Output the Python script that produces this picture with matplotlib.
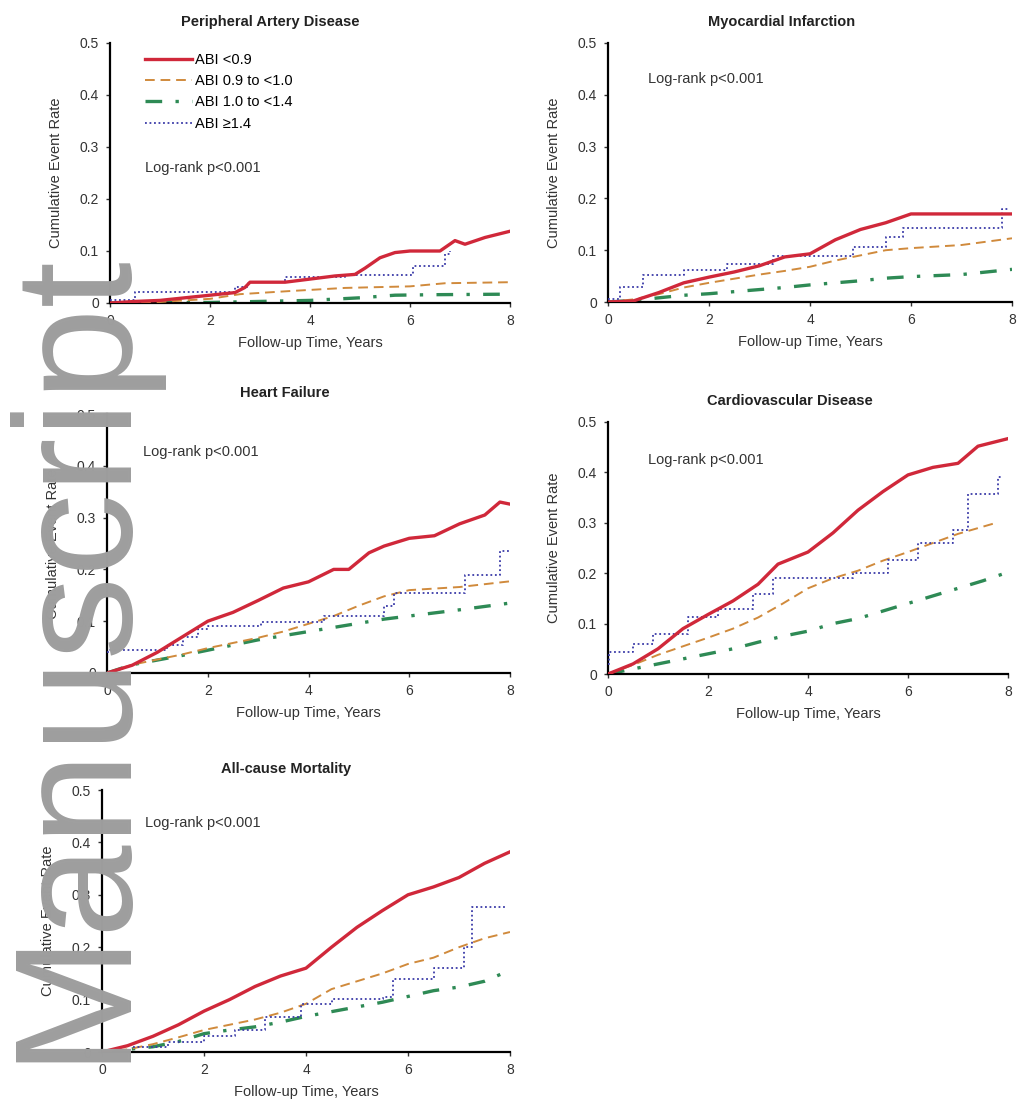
import matplotlib
matplotlib.use('Agg')
import matplotlib.pyplot as plt
from matplotlib.ticker import FuncFormatter

plt.rcParams['font.family'] = ['Liberation Sans', 'DejaVu Sans']
plt.rcParams['font.size'] = 10

W, H = 1021, 1115

group_labels = ['ABI <0.9', 'ABI 0.9 to <1.0', 'ABI 1.0 to <1.4', 'ABI \u22651.4']
titles = ['Peripheral Artery Disease', 'Myocardial Infarction', 'Heart Failure',
          'Cardiovascular Disease', 'All-cause Mortality']
logrank_text = ['Log-rank p<0.001'] * 5
years = [0, 0.5, 1, 1.5, 2, 2.5, 3, 3.5, 4, 4.5, 5, 5.5, 6, 6.5, 7, 7.5, 8]

# Peripheral artery disease
pad_red_t = [0, 0.5, 1, 1.5, 2, 2.5, 2.7, 2.8, 3.5, 4, 4.5, 4.9, 5.1, 5.4, 5.7, 6, 6.6, 6.9, 7.1, 7.5, 8]
pad_red = [0, 0.003, 0.005, 0.01, 0.015, 0.02, 0.03, 0.04, 0.04, 0.046, 0.052, 0.055, 0.067, 0.087, 0.097,
           0.1, 0.1, 0.12, 0.113, 0.126, 0.138]
pad_orange_t = [0, 1, 2, 2.6, 3.6, 4.7, 6, 6.7, 8]
pad_orange = [0, 0.002, 0.008, 0.017, 0.023, 0.029, 0.032, 0.038, 0.04]
pad_green_t = [0, 2, 3, 4, 5, 5.7, 6.5, 8]
pad_green = [0, 0.001, 0.003, 0.005, 0.01, 0.015, 0.016, 0.017]
pad_blue_t = [0, 0.5, 2.5, 2.75, 3.5, 4.7, 6.05, 6.7, 6.8]
pad_blue = [0.005, 0.022, 0.03, 0.04, 0.05, 0.053, 0.072, 0.095, 0.1]

# Myocardial infarction
mi_red_t = [0, 0.5, 1, 1.5, 2, 2.5, 3, 3.5, 4, 4.5, 5, 5.5, 6, 8]
mi_red = [0, 0.002, 0.018, 0.037, 0.048, 0.058, 0.07, 0.087, 0.093, 0.12, 0.14, 0.153, 0.17, 0.17]
mi_orange_t = [0, 0.5, 1, 1.5, 2, 2.5, 3, 3.5, 4, 4.5, 5, 5.5, 6, 7, 8]
mi_orange = [0, 0.005, 0.015, 0.028, 0.037, 0.045, 0.053, 0.06, 0.068, 0.08, 0.09, 0.1, 0.104, 0.11, 0.123]
mi_green_t = [0, 0.5, 1, 1.5, 2, 2.5, 3, 3.5, 4, 4.5, 5, 5.5, 6, 7, 8]
mi_green = [0, 0.003, 0.008, 0.013, 0.016, 0.02, 0.024, 0.028, 0.033, 0.037, 0.041, 0.046, 0.049, 0.053, 0.063]
mi_blue_t = [0, 0.24, 0.7, 1.5, 2.35, 3.27, 4.85, 5.5, 5.85, 7.8, 7.95]
mi_blue = [0.005, 0.029, 0.052, 0.061, 0.074, 0.088, 0.107, 0.126, 0.142, 0.18, 0.18]

# Heart failure
hf_red_t = [0, 0.5, 1, 1.5, 2, 2.5, 3, 3.5, 4, 4.5, 4.8, 5.2, 5.5, 6, 6.5, 7, 7.5, 7.8, 8]
hf_red = [0, 0.015, 0.04, 0.07, 0.1, 0.117, 0.14, 0.164, 0.176, 0.2, 0.2, 0.232, 0.245, 0.26, 0.265, 0.288,
          0.305, 0.33, 0.326]
hf_orange_t = [0, 0.5, 1, 1.5, 2, 2.5, 3, 3.5, 4, 4.5, 5, 5.5, 6, 7, 8]
hf_orange = [0, 0.016, 0.026, 0.036, 0.048, 0.058, 0.068, 0.08, 0.095, 0.11, 0.13, 0.148, 0.16, 0.166, 0.177]
hf_green_t = [0, 0.5, 1, 1.5, 2, 2.5, 3, 3.5, 4, 4.5, 5, 5.5, 6, 7, 8]
hf_green = [0, 0.016, 0.025, 0.034, 0.044, 0.054, 0.064, 0.072, 0.08, 0.088, 0.096, 0.104, 0.11, 0.122, 0.135]
hf_blue_t = [0, 0.05, 1.2, 1.5, 1.8, 2.0, 3.05, 4.3, 5.5, 5.7, 7.1, 7.8, 8]
hf_blue = [0.04, 0.045, 0.055, 0.07, 0.085, 0.09, 0.099, 0.111, 0.13, 0.155, 0.19, 0.235, 0.235]

# Cardiovascular disease
cvd_red_t = [0, 0.5, 1, 1.5, 2, 2.5, 3, 3.4, 4, 4.5, 5, 5.5, 6, 6.5, 7, 7.4, 8]
cvd_red = [0, 0.02, 0.05, 0.09, 0.118, 0.145, 0.178, 0.218, 0.242, 0.28, 0.325, 0.362, 0.395, 0.41, 0.418,
           0.452, 0.467]
cvd_orange_t = [0, 0.5, 1, 1.5, 2, 2.5, 3, 3.5, 4, 4.5, 5, 5.5, 6, 6.5, 7, 7.8]
cvd_orange = [0, 0.018, 0.038, 0.055, 0.072, 0.09, 0.112, 0.14, 0.17, 0.19, 0.205, 0.225, 0.242, 0.26, 0.278,
              0.301]
cvd_green = [0, 0.01, 0.02, 0.03, 0.04, 0.05, 0.063, 0.075, 0.085, 0.1, 0.11, 0.125, 0.14, 0.155, 0.17, 0.185,
             0.202]
cvd_blue_t = [0, 0.02, 0.5, 0.9, 1.6, 2.2, 2.9, 3.3, 4.25, 4.9, 5.6, 6.2, 6.9, 7.2, 7.8, 7.85]
cvd_blue = [0.02, 0.044, 0.06, 0.08, 0.113, 0.129, 0.159, 0.19, 0.19, 0.2, 0.226, 0.259, 0.285, 0.358, 0.39, 0.39]

# All-cause mortality
mort_red = [0, 0.012, 0.03, 0.052, 0.078, 0.1, 0.125, 0.145, 0.16, 0.2, 0.238, 0.27, 0.3, 0.315, 0.333, 0.36,
            0.382]
mort_orange = [0, 0.005, 0.015, 0.028, 0.042, 0.052, 0.062, 0.075, 0.092, 0.12, 0.135, 0.15, 0.168, 0.18, 0.2,
               0.217, 0.229]
mort_green = [0, 0.005, 0.01, 0.02, 0.035, 0.042, 0.048, 0.057, 0.068, 0.077, 0.086, 0.095, 0.106, 0.117, 0.124,
              0.135, 0.156]
mort_blue_t = [0.6, 1.3, 2, 2.6, 3.2, 3.9, 4.5, 5.5, 5.7, 6.5, 7.1, 7.25, 7.95]
mort_blue = [0.01, 0.02, 0.03, 0.042, 0.067, 0.092, 0.102, 0.105, 0.14, 0.16, 0.2, 0.277, 0.277]

panels = [
    (pad_red_t, pad_red, pad_orange_t, pad_orange, pad_green_t, pad_green, pad_blue_t, pad_blue),
    (mi_red_t, mi_red, mi_orange_t, mi_orange, mi_green_t, mi_green, mi_blue_t, mi_blue),
    (hf_red_t, hf_red, hf_orange_t, hf_orange, hf_green_t, hf_green, hf_blue_t, hf_blue),
    (cvd_red_t, cvd_red, cvd_orange_t, cvd_orange, years, cvd_green, cvd_blue_t, cvd_blue),
    (years, mort_red, years, mort_orange, years, mort_green, mort_blue_t, mort_blue),
]

# axes boxes in pixels: left, top, right, bottom
boxes = [(110, 43, 510, 303), (608, 43, 1012, 302), (107, 414, 510, 673),
         (608, 422, 1008, 674), (102, 790, 510, 1052)]
title_x = [0.40, 0.43, 0.44, 0.455, 0.45]
logrank_pos = [(0.7, 0.26), (0.8, 0.43), (0.71, 0.427), (0.8, 0.425), (0.84, 0.437)]

red = '#d0283a'
orange = '#d08a3c'
green = '#2e8a55'
blue = '#3a3aa8'
txt = '#333333'

fig = plt.figure(figsize=(W / 100, H / 100), dpi=100)

for i, (l, t, r, b) in enumerate(boxes):
    ax = fig.add_axes([l / W, 1 - b / H, (r - l) / W, (b - t) / H])
    rt, ry, ot, oy, gt, gy, bt, by = panels[i]
    ax.plot(rt, ry, color=red, lw=2.4, label=group_labels[0], zorder=4)
    ax.plot(ot, oy, color=orange, lw=1.4, ls=(0, (5, 3)), label=group_labels[1], zorder=3)
    ax.plot(gt, gy, color=green, lw=2.4, ls=(0, (5, 4, 1, 4)), label=group_labels[2], zorder=2)
    ax.step(bt, by, where='post', color=blue, lw=1.3, ls=(0, (1, 1.5)), label=group_labels[3], zorder=3)

    ax.set_xlim(0, 8)
    ax.set_ylim(0, 0.5)
    ax.set_xticks([0, 2, 4, 6, 8])
    ax.set_yticks([0, 0.1, 0.2, 0.3, 0.4, 0.5])
    ax.yaxis.set_major_formatter(FuncFormatter(lambda v, p: '0' if v == 0 else '%.1f' % v))
    ax.tick_params(direction='out', length=3, width=1, labelsize=10, colors=txt, pad=5)
    for s in ['top', 'right']:
        ax.spines[s].set_visible(False)
    for s in ['left', 'bottom']:
        ax.spines[s].set_linewidth(1.6)
        ax.spines[s].set_color('black')
    ax.set_title(titles[i], x=title_x[i], pad=12, fontsize=10.5, fontweight='bold', color='#222222')
    ax.set_xlabel('Follow-up Time, Years', fontsize=10.5, color=txt, labelpad=6)
    ax.set_ylabel('Cumulative Event Rate', fontsize=10.5, color=txt, labelpad=12)
    ax.text(logrank_pos[i][0], logrank_pos[i][1], logrank_text[i], fontsize=10.5, color=txt,
            va='center', ha='left')

    if i == 0:
        ax.legend(loc='upper left', bbox_to_anchor=(0.0875, 0.962), frameon=False, fontsize=10.5,
                  handlelength=3.2, handletextpad=0.2, labelspacing=0.5, borderpad=0, borderaxespad=0)

# watermark
fig.text(118 / W, 1 - 1062 / H, 'Manuscript', rotation=90, rotation_mode='anchor', ha='left',
         va='baseline', fontsize=120, color='#9e9e9e', zorder=10)

fig.savefig('out.png', dpi=100)
